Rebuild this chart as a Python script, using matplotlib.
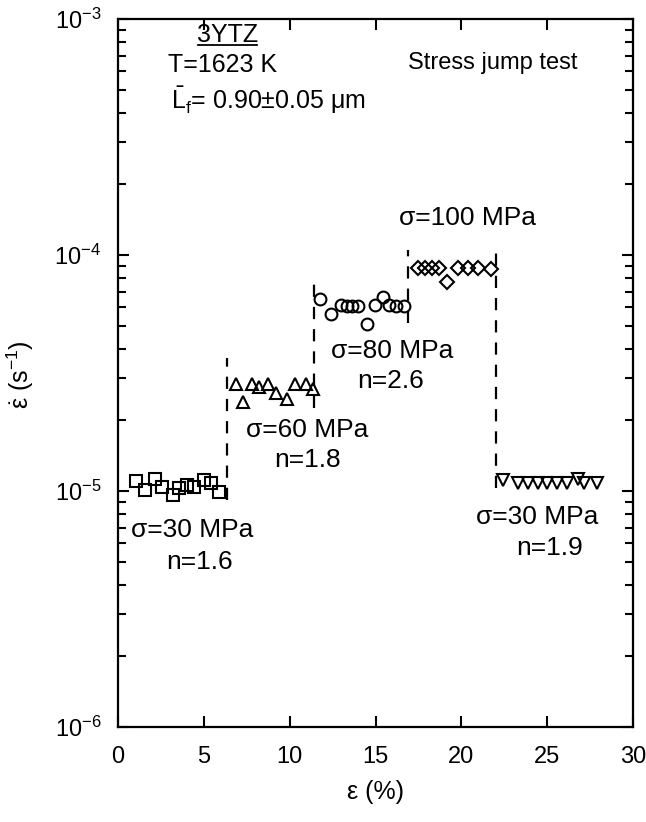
import matplotlib
matplotlib.use("Agg")
import matplotlib.pyplot as plt
import numpy as np

plt.rcParams["font.family"] = ["Liberation Sans", "DejaVu Sans"]
plt.rcParams["mathtext.fontset"] = "custom"
plt.rcParams["mathtext.rm"] = "Liberation Sans"
plt.rcParams["mathtext.it"] = "Liberation Sans"
plt.rcParams["mathtext.bf"] = "Liberation Sans:bold"
plt.rcParams["axes.unicode_minus"] = False

# sigma = 30 MPa (first step)
sq_x = [1.05, 1.56, 2.17, 2.56, 3.19, 3.57, 4.02, 4.41, 4.99, 5.43, 5.86]
sq_y = [1.10e-5, 1.01e-5, 1.12e-5, 1.04e-5, 9.6e-6, 1.03e-5, 1.06e-5, 1.04e-5, 1.11e-5, 1.08e-5, 9.9e-6]

# sigma = 60 MPa
tri_x = [6.87, 7.26, 7.79, 8.23, 8.75, 9.20, 9.83, 10.31, 10.95, 11.34]
tri_y = [2.84e-5, 2.39e-5, 2.84e-5, 2.77e-5, 2.84e-5, 2.61e-5, 2.45e-5, 2.84e-5, 2.84e-5, 2.70e-5]

# sigma = 80 MPa
circ_x = [11.76, 12.43, 12.99, 13.34, 13.63, 13.98, 14.48, 14.97, 15.45, 15.78, 16.19, 16.66]
circ_y = [6.52e-5, 5.62e-5, 6.14e-5, 6.08e-5, 6.08e-5, 6.08e-5, 5.08e-5, 6.14e-5, 6.61e-5, 6.14e-5, 6.08e-5, 6.08e-5]

# sigma = 100 MPa
dia_x = [17.49, 17.88, 18.27, 18.71, 19.14, 19.82, 20.40, 20.98, 21.71]
dia_y = [8.79e-5, 8.79e-5, 8.79e-5, 8.79e-5, 7.71e-5, 8.79e-5, 8.79e-5, 8.79e-5, 8.75e-5]

# sigma = 30 MPa (back down)
inv_x = [22.44, 23.31, 23.90, 24.48, 25.00, 25.55, 26.13, 26.81, 27.14, 27.88]
inv_y = [1.11e-5, 1.08e-5, 1.08e-5, 1.08e-5, 1.08e-5, 1.08e-5, 1.08e-5, 1.12e-5, 1.08e-5, 1.08e-5]

# stress jumps (strain, bottom, top)
jump_x = [6.33, 11.43, 16.91, 22.02]
jump_lo = [9.2e-6, 2.25e-5, 5.15e-5, 1.03e-5]
jump_hi = [3.66e-5, 7.83e-5, 1.05e-4, 1.07e-4]

# step labels
lab_text = ["σ=30 MPa", "n=1.6", "σ=60 MPa", "n=1.8", "σ=80 MPa", "n=2.6",
            "σ=100 MPa", "σ=30 MPa", "n=1.9"]
lab_x = [4.31, 4.72, 11.01, 11.04, 15.96, 15.9, 20.38, 24.40, 25.16]
lab_y = [6.84e-6, 5.0e-6, 1.81e-5, 1.35e-5, 3.92e-5, 2.92e-5, 1.435e-4, 7.76e-6, 5.73e-6]

fig = plt.figure(figsize=(6.46, 8.22), dpi=100)
ax = fig.add_axes([0.1827, 0.1156, 0.7972, 0.8613])

mk = dict(linestyle="none", color="black", mfc="none", mew=1.5)
ax.plot(sq_x, sq_y, marker="s", ms=8.5, **mk)
ax.plot(tri_x, tri_y, marker="^", ms=8.5, **mk)
ax.plot(circ_x, circ_y, marker="o", ms=8.5, **mk)
ax.plot(dia_x, dia_y, marker="D", ms=7.5, **mk)
ax.plot(inv_x, inv_y, marker="v", ms=8.5, **mk)

ax.vlines(jump_x, jump_lo, jump_hi, colors="black", linewidth=1.6,
          linestyles=(0, (5.5, 4.5)))

for t, x, y in zip(lab_text, lab_x, lab_y):
    ax.text(x, y, t, ha="center", va="center", fontsize=19)

ax.set_yscale("log")
ax.set_xlim(0, 30)
ax.set_ylim(1e-6, 1e-3)
ax.set_xticks([0, 5, 10, 15, 20, 25, 30])
ax.set_yticks([1e-6, 1e-5, 1e-4, 1e-3])

ax.tick_params(which="both", direction="in", top=True, right=True, width=1.5)
ax.tick_params(which="major", length=8, labelsize=17)
ax.tick_params(axis="x", which="major", pad=14)
ax.tick_params(axis="y", which="major", pad=12)
ax.tick_params(which="minor", length=6)
for s in ax.spines.values():
    s.set_linewidth(1.6)

ax.set_xlabel("ε (%)", fontsize=18)
ax.set_ylabel(r"$\dot{\varepsilon}\ (\mathrm{s}^{-1})$", fontsize=18)
ax.xaxis.set_label_coords(0.499, -0.075)
ax.yaxis.set_label_coords(-0.16, 0.497)

ax.text(0.212, 0.977, "3YTZ", transform=ax.transAxes, ha="center", va="center", fontsize=18)
ax.plot([0.155, 0.27], [0.963, 0.963], transform=ax.transAxes, color="black",
        linewidth=1.3, clip_on=False)
ax.text(0.097, 0.935, "T=1623 K", transform=ax.transAxes, ha="left", va="center", fontsize=18)
ax.text(0.103, 0.886, r"$\bar{\mathrm{L}}_{\mathrm{f}}$= 0.90±0.05 μm", transform=ax.transAxes,
        ha="left", va="center", fontsize=18)
ax.text(0.563, 0.938, "Stress jump test", transform=ax.transAxes, ha="left", va="center",
        fontsize=17)

fig.savefig("out.png", dpi=100)
